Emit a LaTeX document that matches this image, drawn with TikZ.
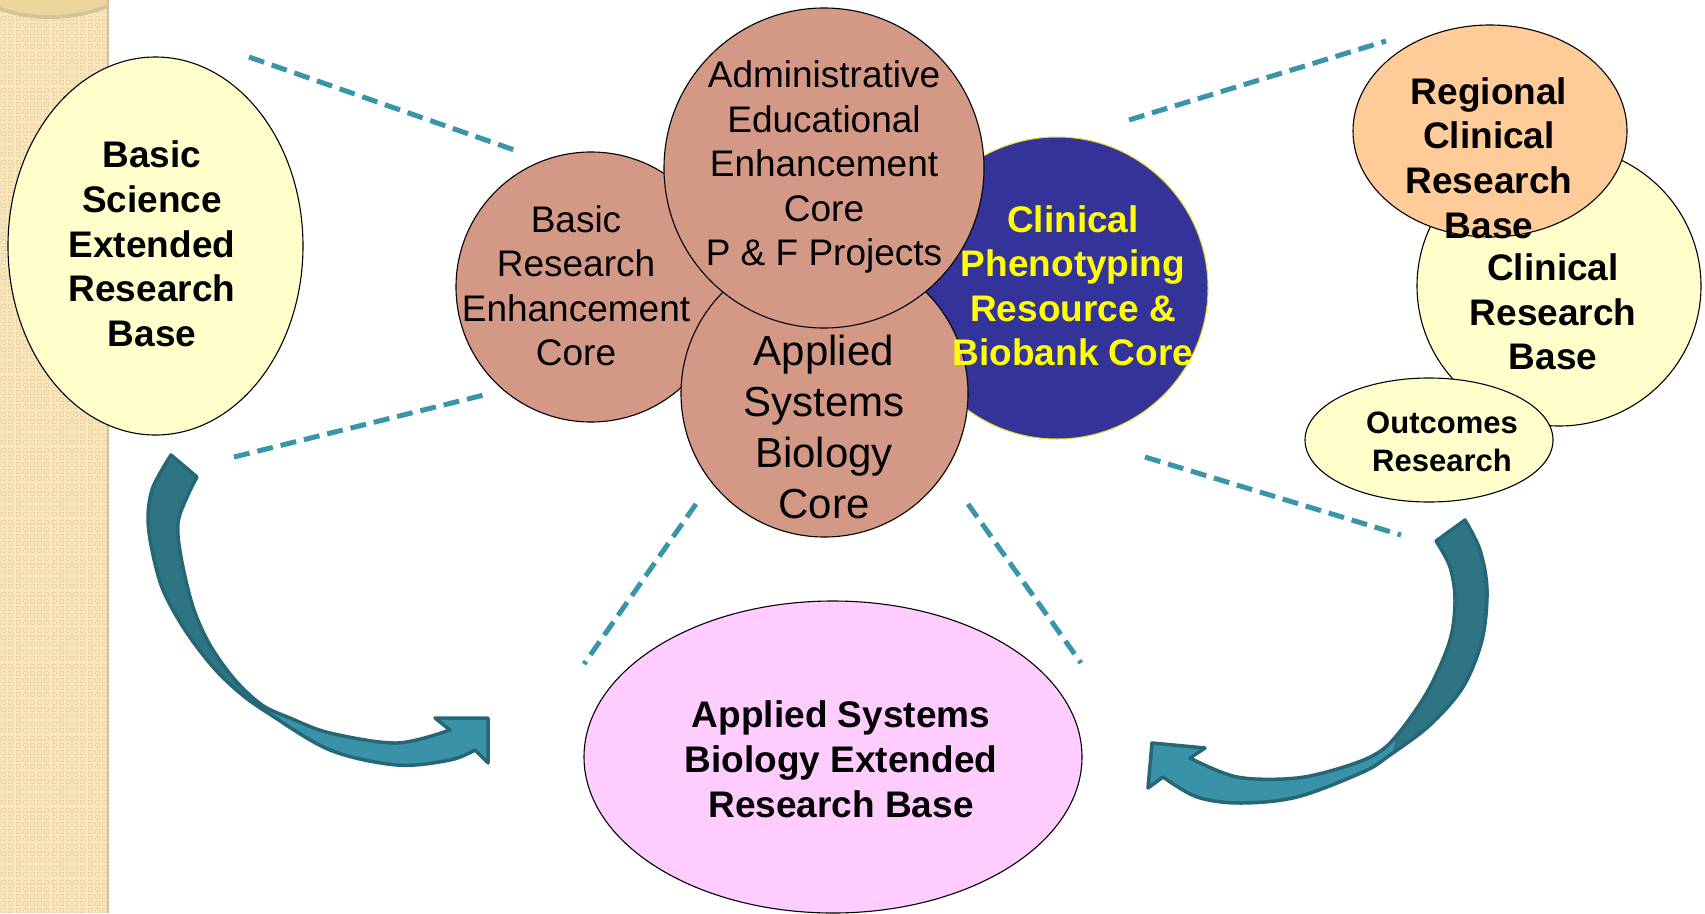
\documentclass[tikz,border=0pt]{standalone}
\usepackage{fontspec}
\setmainfont{Liberation Sans}
\usetikzlibrary{shapes.geometric}
\definecolor{stripbg}{RGB}{248,230,188}
\definecolor{stripgrid}{RGB}{236,214,166}
\definecolor{stripedge}{RGB}{205,195,170}
\definecolor{tancirc}{RGB}{236,214,156}
\definecolor{tanshadow}{RGB}{212,196,156}
\definecolor{lightyellow}{RGB}{255,255,204}
\definecolor{salmonc}{RGB}{212,152,134}
\definecolor{bluec}{RGB}{51,51,153}
\definecolor{bluerim}{RGB}{225,215,40}
\definecolor{peach}{RGB}{255,204,153}
\definecolor{pinkc}{RGB}{255,204,255}
\definecolor{textyellow}{RGB}{255,255,0}
\definecolor{dashteal}{RGB}{56,149,170}
\definecolor{arrowdark}{RGB}{46,116,131}
\definecolor{arrowlight}{RGB}{58,146,168}
\definecolor{arrowrim}{RGB}{37,103,119}
\newcommand\LArrowPath{plot[smooth,tension=0.55] coordinates {(171,455) (153,487) (148,517) (152,550) (163,590) (185,630) (213,667) (240,693) (268,713) (330,750) (397,765) (450,760) (475,750)} -- (488,763) -- (488,718) -- (435,718) -- plot[smooth,tension=0.55] coordinates {(450,730) (397,743) (330,733) (290,718) (262,705) (235,680) (210,645) (193,607) (181,557) (178,523) (187,497) (197,477)} -- cycle}
\newcommand\RArrowPath{plot[smooth,tension=0.55] coordinates {(1465,520) (1480,550) (1487,590) (1482,640) (1463,687) (1430,725) (1390,755) (1363,772) (1297,797) (1240,803) (1197,797) (1163,777)} -- (1148,788) -- (1152,743) -- (1205,748) -- plot[smooth,tension=0.55] coordinates {(1190,758) (1237,777) (1297,778) (1350,765) (1382,750) (1405,725) (1430,687) (1450,640) (1455,600) (1450,567) (1436,541)} -- cycle}
\begin{document}
\begin{tikzpicture}[x=1pt,y=-1pt,
  blob/.style={draw=black, line width=1.1pt, inner sep=0pt},
  roundc/.style={blob, circle},
  oval/.style={blob, ellipse},
  boldtxt/.style={align=center, inner sep=0pt, font=\bfseries\fontsize{37pt}{44.7pt}\selectfont},
  plaintxt/.style={align=center, inner sep=0pt, font=\fontsize{37pt}{44.5pt}\selectfont},
  dashlink/.style={draw=dashteal, line width=5pt, dash pattern=on 16pt off 8pt},
  arrowrimline/.style={draw=arrowrim, line width=3.5pt, line join=round}
]
\useasboundingbox (0,0) rectangle (1705,913);
\fill[white] (0,0) rectangle (1705,913);

% patterned strip on the left
\begin{scope}
  \clip (0,0) rectangle (108,913);
  \fill[stripbg] (0,0) rectangle (108,913);
  \draw[stripgrid, line width=1pt] \foreach \i in {0,...,14}{\foreach \j in {0,...,127}{(\i*7.2+1.6,\j*7.2+1.6) rectangle ++(4,4)}};
  \fill[tanshadow] (50,-137) circle[radius=156pt];
  \fill[tancirc] (50,-141) circle[radius=156pt];
\end{scope}
\draw[stripedge, line width=1.5pt] (108,0) -- (108,913);

% nodes
\node[oval, fill=lightyellow, minimum width=295pt, minimum height=378pt] (bse) at (155.5,246) {};
\node[boldtxt] (bseT) at (152,244) {Basic\\Science\\Extended\\Research\\Base};

\node[roundc, fill=bluec, draw=bluerim, line width=1pt, minimum size=302pt] (cpb) at (1057,288) {};
\node[roundc, fill=salmonc, minimum size=270pt] (brc) at (591,287) {};
\node[roundc, fill=salmonc, minimum size=287pt] (asb) at (824.5,393.5) {};
\node[roundc, fill=salmonc, minimum size=320pt] (aec) at (824,168) {};
\node[plaintxt] (brcT) at (576,286) {Basic\\Research\\Enhancement\\Core};
\node[plaintxt] (aecT) at (824,167) {Administrative\\Educational\\Enhancement\\Core\\P \& F Projects};
\node[align=center, inner sep=0pt, font=\fontsize{42pt}{51pt}\selectfont] (asbT) at (824,427) {Applied\\Systems\\Biology\\Core};
\node[boldtxt, text=textyellow, font=\bfseries\fontsize{37pt}{44.5pt}\selectfont] (cpbT) at (1073,286) {Clinical\\Phenotyping\\Resource \&\\Biobank Core};

\node[oval, fill=lightyellow, minimum width=284pt, minimum height=280pt] (crb) at (1559,286) {};
\node[oval, fill=peach, minimum width=274pt, minimum height=212pt] (rcr) at (1490,131) {};
\node[boldtxt] (rcrT) at (1489,158) {Regional\\Clinical\\Research\\Base};
\node[boldtxt] (crbT) at (1553,312) {Clinical\\Research\\Base};
\node[oval, fill=lightyellow, minimum width=248pt, minimum height=124pt] (out) at (1429,440) {};
\node[boldtxt, font=\bfseries\fontsize{31pt}{38.5pt}\selectfont] (outT) at (1442,442) {Outcomes\\Research};

\node[oval, fill=pinkc, minimum width=498pt, minimum height=312pt] (asx) at (833,757) {};
\node[boldtxt, font=\bfseries\fontsize{37pt}{45pt}\selectfont] (asxT) at (841,759) {Applied Systems\\Biology Extended\\Research Base};

% dashed links
\coordinate (d1a) at (249,57);   \coordinate (d1b) at (520,152);
\coordinate (d2a) at (234,457);  \coordinate (d2b) at (488,394);
\coordinate (d3a) at (1129,120); \coordinate (d3b) at (1386,41);
\coordinate (d4a) at (1145,457); \coordinate (d4b) at (1401,535);
\coordinate (d5a) at (696,504);  \coordinate (d5b) at (584,664);
\coordinate (d6a) at (968,504);  \coordinate (d6b) at (1081,663);
\draw[dashlink] (d1a) -- (d1b);
\draw[dashlink] (d2a) -- (d2b);
\draw[dashlink] (d3a) -- (d3b);
\draw[dashlink] (d4a) -- (d4b);
\draw[dashlink] (d5a) -- (d5b);
\draw[dashlink] (d6a) -- (d6b);

% curved block arrows
\fill[arrowdark] \LArrowPath;
\begin{scope}
  \clip \LArrowPath;
  \fill[arrowlight] (270,690) -- (560,690) -- (560,800) -- (250,800) -- cycle;
\end{scope}
\draw[arrowrimline] \LArrowPath;

\fill[arrowdark] \RArrowPath;
\begin{scope}
  \clip \RArrowPath;
  \fill[arrowlight] (1400,720) -- (1120,720) -- (1120,830) -- (1375,830) -- cycle;
\end{scope}
\draw[arrowrimline] \RArrowPath;
\end{tikzpicture}
\end{document}
